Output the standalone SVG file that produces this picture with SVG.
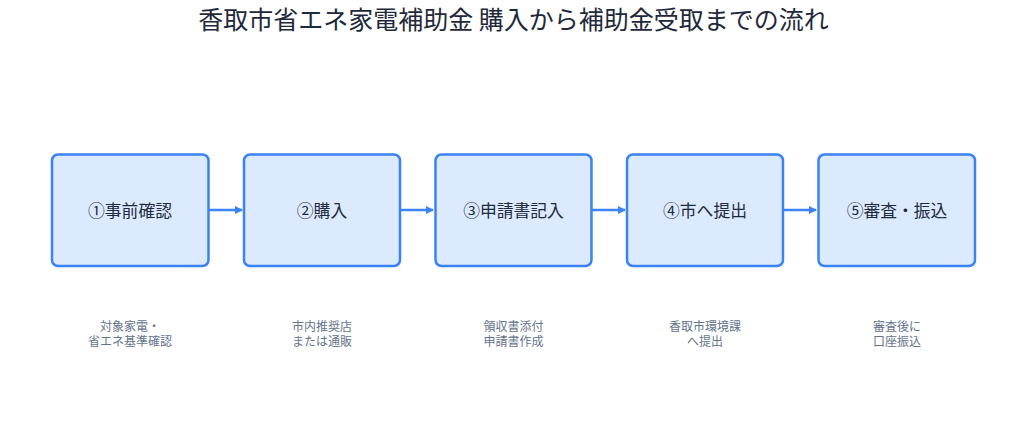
<svg xmlns="http://www.w3.org/2000/svg" width="1027" height="432" viewBox="0 0 1027 432">
<style>
.title{font-family:"Noto Sans CJK JP","Noto Sans",sans-serif;font-size:25px;fill:#1e293b;text-anchor:middle}
.box{fill:#dbeafe;stroke:#3b82f6;stroke-width:2.5}
.lbl{font-family:"Noto Sans CJK JP","Noto Sans",sans-serif;font-size:16.8px;fill:#1e293b;text-anchor:middle;dominant-baseline:central}
.sub{font-family:"Noto Sans CJK JP","Noto Sans",sans-serif;font-size:12px;fill:#64748b;text-anchor:middle}
.conn{stroke:#3b82f6;stroke-width:2.5;fill:none;marker-end:url(#ah)}
</style>
<defs>
<marker id="ah" markerWidth="8" markerHeight="8" refX="7" refY="4" orient="auto" markerUnits="userSpaceOnUse">
<path d="M0,0 L8,4 L0,8 Z" fill="#3b82f6"/>
</marker>
</defs>
<rect width="1027" height="432" fill="#ffffff"/>
<text class="title" x="513.5" y="29">香取市省エネ家電補助金 購入から補助金受取までの流れ</text>
<g id="connectors">
<line class="conn" x1="209" y1="210" x2="242" y2="210"/>
<line class="conn" x1="401" y1="210" x2="433" y2="210"/>
<line class="conn" x1="592" y1="210" x2="625" y2="210"/>
<line class="conn" x1="784" y1="210" x2="816" y2="210"/>
</g>
<g id="node1">
<rect class="box" x="52" y="154.5" width="156.5" height="111.5" rx="6"/>
<text class="lbl" x="130" y="209.5">①事前確認</text>
<text class="sub" x="130" y="331">対象家電・</text>
<text class="sub" x="130" y="346">省エネ基準確認</text>
</g>
<g id="node2">
<rect class="box" x="244" y="154.5" width="156" height="111.5" rx="6"/>
<text class="lbl" x="322" y="209.5">②購入</text>
<text class="sub" x="322" y="331">市内推奨店</text>
<text class="sub" x="322" y="346">または通販</text>
</g>
<g id="node3">
<rect class="box" x="435.5" y="154.5" width="156" height="111.5" rx="6"/>
<text class="lbl" x="513.5" y="209.5">③申請書記入</text>
<text class="sub" x="513.5" y="331">領収書添付</text>
<text class="sub" x="513.5" y="346">申請書作成</text>
</g>
<g id="node4">
<rect class="box" x="627" y="154.5" width="156" height="111.5" rx="6"/>
<text class="lbl" x="705" y="209.5">④市へ提出</text>
<text class="sub" x="705" y="331">香取市環境課</text>
<text class="sub" x="705" y="346">へ提出</text>
</g>
<g id="node5">
<rect class="box" x="818.5" y="154.5" width="156.5" height="111.5" rx="6"/>
<text class="lbl" x="897" y="209.5">⑤審査・振込</text>
<text class="sub" x="897" y="331">審査後に</text>
<text class="sub" x="897" y="346">口座振込</text>
</g>
</svg>
